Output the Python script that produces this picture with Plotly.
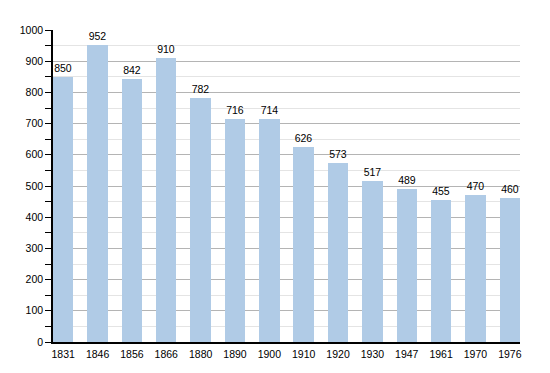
import plotly.graph_objects as go

years = ["1831", "1846", "1856", "1866", "1880", "1890", "1900", "1910", "1920", "1930", "1947", "1961", "1970", "1976"]
population = [850, 952, 842, 910, 782, 716, 714, 626, 573, 517, 489, 455, 470, 460]
y_ticks = [0, 100, 200, 300, 400, 500, 600, 700, 800, 900, 1000]

idx = list(range(len(years)))
bw = 0.594

fig = go.Figure(go.Bar(
    x=idx, y=population, width=bw,
    marker=dict(color="#b0cbe6", line=dict(width=0)),
    text=[str(v) for v in population], textposition="outside",
    textfont=dict(size=10.5, color="black", family="Liberation Sans, Arial, sans-serif"),
    cliponaxis=False,
))

fig.update_layout(
    width=550, height=373,
    margin=dict(l=42, r=38, t=22, b=39),
    plot_bgcolor="white", paper_bgcolor="white",
    font=dict(family="Liberation Sans, Arial, sans-serif", size=10.5, color="black"),
    showlegend=False,
    bargap=0,
    uniformtext=dict(minsize=10, mode="show"),
)
fig.update_xaxes(
    range=[-bw / 2, len(years) - 1 + bw / 2],
    tickmode="array", tickvals=idx, ticktext=years,
    showgrid=False, zeroline=False,
    showline=True, linecolor="black", linewidth=1.5,
    ticks="", ticklabelstandoff=2,
)
fig.update_yaxes(
    range=[0, 1000],
    tickmode="array", tickvals=y_ticks,
    showgrid=True, gridcolor="#b4b4b4", gridwidth=1,
    zeroline=False,
    showline=True, linecolor="black", linewidth=1.5,
    ticks="outside", ticklen=6, tickcolor="black", tickwidth=1,
    minor=dict(dtick=50, tick0=0, showgrid=True, gridcolor="#e4e4e4", gridwidth=1,
               ticks="outside", ticklen=6, tickcolor="black"),
)
fig.write_html("out.html")
